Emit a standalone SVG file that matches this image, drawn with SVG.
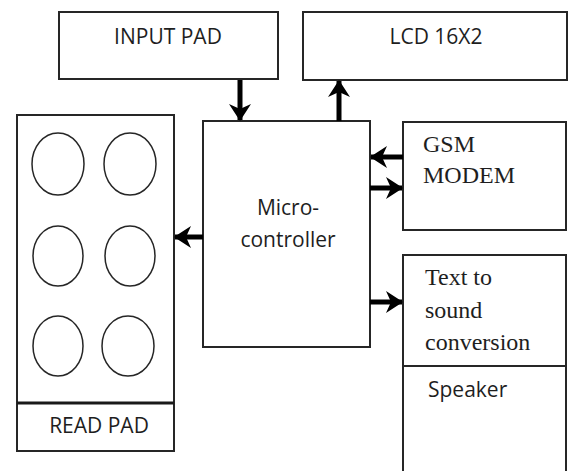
<svg xmlns="http://www.w3.org/2000/svg" width="568" height="471" viewBox="0 0 568 471">
<defs>
<style>
.box{fill:#fff;stroke:#262626;stroke-width:2}
.pad{fill:none;stroke:#262626;stroke-width:1.5}
.sans{font-family:"Open Sans","Liberation Sans",sans-serif;font-size:21px;fill:#1e1e1e}
.serif{font-family:"Liberation Serif","Times New Roman",serif;font-size:24px;fill:#1e1e1e}
.conn{stroke:#000;stroke-width:5;fill:none;marker-end:url(#ah)}
</style>
<marker id="ah" markerUnits="userSpaceOnUse" viewBox="0 0 20 24" markerWidth="20" markerHeight="24" refX="19" refY="12" orient="auto">
<path d="M20,12 L3,1 L8,12 L3,23 Z" fill="#000"/>
</marker>
</defs>
<rect width="568" height="471" fill="#fff"/>
<g id="input-pad">
<rect class="box" x="59" y="12" width="219" height="67"/>
<text class="sans" x="168" y="44" text-anchor="middle">INPUT PAD</text>
</g>
<g id="lcd">
<rect class="box" x="303" y="12" width="264" height="68"/>
<text class="sans" x="436" y="44" text-anchor="middle">LCD 16X2</text>
</g>
<g id="microcontroller">
<rect class="box" x="203" y="121" width="167" height="226"/>
<text class="sans" x="288" y="215" text-anchor="middle">Micro-</text>
<text class="sans" x="288" y="247" text-anchor="middle">controller</text>
</g>
<g id="read-pad">
<rect class="box" x="17" y="115" width="157" height="336"/>
<line x1="17" y1="403" x2="174" y2="403" stroke="#1a1a1a" stroke-width="3"/>
<ellipse class="pad" cx="58" cy="164" rx="26" ry="31"/>
<ellipse class="pad" cx="130" cy="164" rx="26" ry="31"/>
<ellipse class="pad" cx="58" cy="256" rx="25" ry="30"/>
<ellipse class="pad" cx="130" cy="256" rx="25" ry="30"/>
<ellipse class="pad" cx="58" cy="346" rx="25" ry="30"/>
<ellipse class="pad" cx="128" cy="346" rx="26" ry="30"/>
<text class="sans" x="99" y="433" text-anchor="middle">READ PAD</text>
</g>
<g id="gsm-modem">
<rect class="box" x="403" y="122" width="163" height="108"/>
<text class="serif" x="423" y="152">GSM</text>
<text class="serif" x="423" y="183">MODEM</text>
</g>
<g id="text-to-sound">
<rect class="box" x="403" y="255" width="163" height="240"/>
<line x1="403" y1="366" x2="566" y2="366" stroke="#262626" stroke-width="2"/>
<text class="serif" x="425" y="285">Text to</text>
<text class="serif" x="425" y="318">sound</text>
<text class="serif" x="425" y="350">conversion</text>
<text class="sans" x="428" y="397">Speaker</text>
</g>
<g id="connectors">
<line class="conn" x1="240" y1="80" x2="240" y2="120"/>
<line class="conn" x1="339" y1="121" x2="339" y2="81"/>
<line class="conn" x1="403" y1="157" x2="371" y2="157"/>
<line class="conn" x1="370" y1="188" x2="402" y2="188"/>
<line class="conn" x1="370" y1="302" x2="402" y2="302"/>
<line class="conn" x1="203" y1="237" x2="175" y2="237"/>
</g>
</svg>
